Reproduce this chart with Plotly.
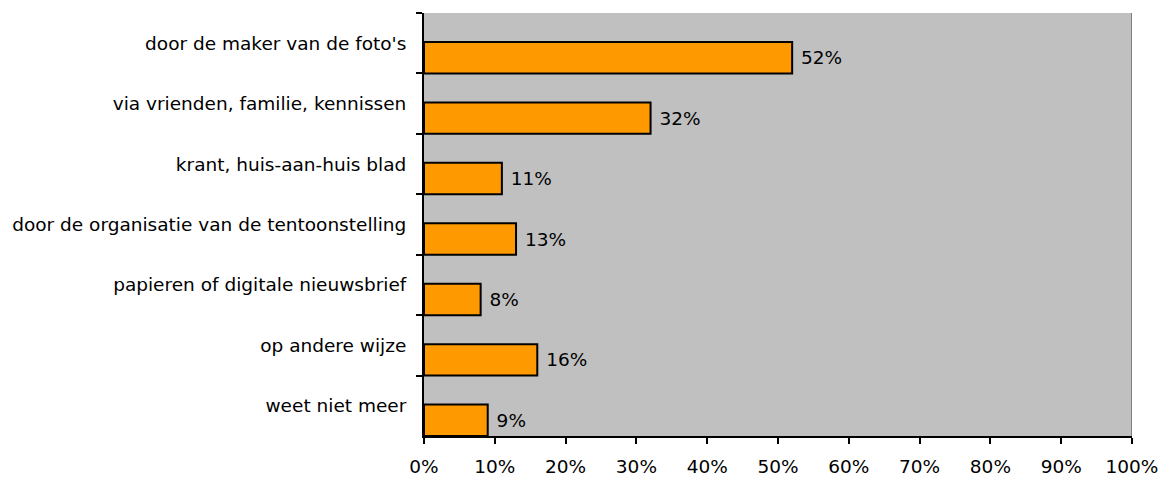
import plotly.graph_objects as go

categories = [
    "door de maker van de foto's",
    "via vrienden, familie, kennissen",
    "krant, huis-aan-huis blad",
    "door de organisatie van de tentoonstelling",
    "papieren of digitale nieuwsbrief",
    "op andere wijze",
    "weet niet meer",
]
values = [52, 32, 11, 13, 8, 16, 9]
x_ticks = list(range(0, 101, 10))

FONT = "DejaVu Sans"
FS = 18.5

fig = go.Figure(
    go.Bar(
        x=values,
        y=categories,
        orientation="h",
        marker=dict(color="#FF9900", line=dict(color="black", width=2)),
        offset=-0.02,
        width=0.52,
        text=[f" {v}%" for v in values],
        textposition="outside",
        textfont=dict(family=FONT, size=FS, color="black"),
        cliponaxis=False,
    )
)

# page body has an 8px default margin, so the figure is 8px smaller
fig.update_layout(
    width=1161,
    height=470,
    margin=dict(l=416, r=37, t=5, b=42, autoexpand=False),
    paper_bgcolor="white",
    plot_bgcolor="#C0C0C0",
    showlegend=False,
    font=dict(family=FONT, size=FS, color="black"),
    xaxis=dict(
        range=[0, 100],
        tickvals=x_ticks,
        ticktext=[f"{t}%" for t in x_ticks],
        showgrid=False,
        zeroline=False,
        showline=True,
        linecolor="black",
        linewidth=2,
        ticks="outside",
        ticklen=6,
        tickwidth=2,
        tickcolor="black",
        ticklabelstandoff=7,
        automargin=False,
        fixedrange=True,
    ),
    yaxis=dict(
        type="category",
        categoryorder="array",
        categoryarray=categories,
        range=[6.5, -0.5],
        tickson="boundaries",
        showgrid=False,
        showline=True,
        linecolor="black",
        linewidth=2,
        ticks="outside",
        ticklen=6,
        tickwidth=2,
        tickcolor="black",
        ticklabelstandoff=12,
        automargin=False,
        fixedrange=True,
    ),
)

fig.add_shape(
    type="line", xref="x", yref="paper", x0=100, x1=100, y0=0, y1=1,
    line=dict(color="#808080", width=2),
)

fig.write_html("out.html")
